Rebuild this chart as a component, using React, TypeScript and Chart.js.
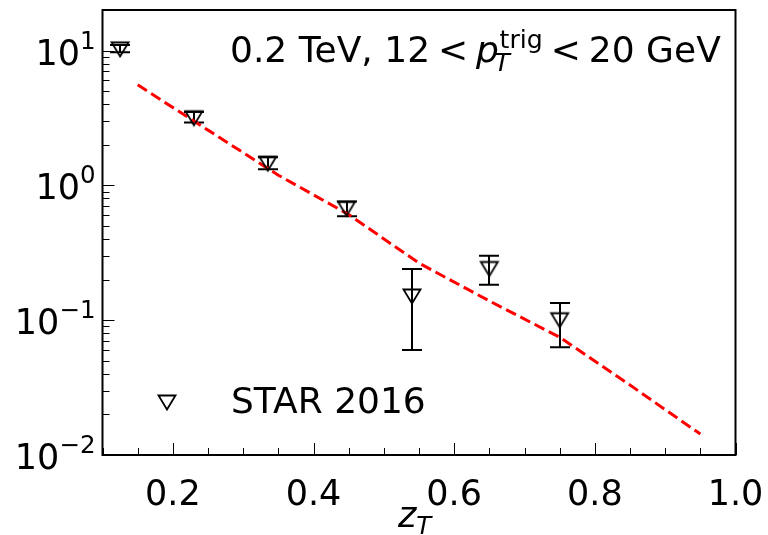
import React, { useEffect, useRef } from "react";
import { Chart, registerables } from "chart.js";
Chart.register(...registerables);

// ---- data ----
const zT = [0.125, 0.23, 0.335, 0.447, 0.54, 0.65, 0.75];
const starYield = [10.2, 3.15, 1.45, 0.67, 0.15, 0.24, 0.1];
const errLow = [9.7, 2.93, 1.32, 0.59, 0.06, 0.183, 0.063];
const errHigh = [11.0, 3.5, 1.62, 0.76, 0.24, 0.3, 0.134];
const curveX = [0.15, 0.25, 0.35, 0.45, 0.55, 0.65, 0.75, 0.85, 0.95];
const curveY = [5.57, 2.57, 1.19, 0.608, 0.265, 0.139, 0.0747, 0.033, 0.0143];
const xTickValues = [0.2, 0.4, 0.6, 0.8, 1.0];
const xTickLabels = ["0.2", "0.4", "0.6", "0.8", "1.0"];
const yTickExps = [1, 0, -1, -2];
const yTickSups = ["1", "0", "\u22121", "\u22122"];
const legendLabel = "STAR 2016";

const FONT = "'DejaVu Sans', sans-serif";
const FS = 35;
const TFS = 36;

function makeMarker(): HTMLCanvasElement {
  const c = document.createElement("canvas");
  c.width = 22;
  c.height = 19;
  const g = c.getContext("2d")!;
  g.strokeStyle = "#000";
  g.lineWidth = 1.8;
  g.lineJoin = "miter";
  g.beginPath();
  g.moveTo(2.5, 2.5);
  g.lineTo(19.5, 2.5);
  g.lineTo(11, 16.5);
  g.closePath();
  g.stroke();
  return c;
}

function drawTitle(ctx: CanvasRenderingContext2D, xStart: number, baseline: number, size: number) {
  const reg = `${size}px ${FONT}`;
  const it = `italic ${size}px ${FONT}`;
  const s = size * 0.7;
  const gap = size * 0.22;
  let x = xStart;
  ctx.textAlign = "left";
  ctx.textBaseline = "alphabetic";
  ctx.font = reg;
  const t1 = "0.2 TeV, 12";
  ctx.fillText(t1, x, baseline);
  x += ctx.measureText(t1).width + gap;
  ctx.fillText("<", x, baseline);
  x += ctx.measureText("<").width + gap;
  ctx.font = it;
  ctx.fillText("p", x, baseline);
  x += ctx.measureText("p").width;
  ctx.font = `italic ${s}px ${FONT}`;
  ctx.fillText("T", x - size * 0.12, baseline + size * 0.24);
  const wT = ctx.measureText("T").width - size * 0.12;
  ctx.font = `${s}px ${FONT}`;
  ctx.fillText("trig", x + size * 0.02, baseline - size * 0.4);
  const wTrig = ctx.measureText("trig").width + size * 0.02;
  x += Math.max(wT, wTrig) + gap;
  ctx.font = reg;
  ctx.fillText("<", x, baseline);
  x += ctx.measureText("<").width + gap;
  ctx.fillText("20 GeV", x, baseline);
}

const overlayPlugin = {
  id: "overlay",
  beforeDatasetsDraw(chart: any) {
    const ctx: CanvasRenderingContext2D = chart.ctx;
    const xs = chart.scales.x;
    const ys = chart.scales.y;
    ctx.save();
    ctx.strokeStyle = "#000";
    ctx.lineWidth = 2;
    for (let i = 0; i < zT.length; i++) {
      const px = Math.round(xs.getPixelForValue(zT[i]));
      const pl = ys.getPixelForValue(errLow[i]);
      const ph = ys.getPixelForValue(errHigh[i]);
      ctx.beginPath();
      ctx.moveTo(px, pl);
      ctx.lineTo(px, ph);
      ctx.moveTo(px - 10, pl);
      ctx.lineTo(px + 10, pl);
      ctx.moveTo(px - 10, ph);
      ctx.lineTo(px + 10, ph);
      ctx.stroke();
    }
    ctx.restore();
  },
  afterDraw(chart: any) {
    const ctx: CanvasRenderingContext2D = chart.ctx;
    const xs = chart.scales.x;
    const ys = chart.scales.y;
    const { left, right, top, bottom } = chart.chartArea;
    ctx.save();
    // ticks
    ctx.strokeStyle = "#000";
    ctx.lineWidth = 1;
    ctx.beginPath();
    for (let i = 2; i <= 20; i++) {
      const v = i * 0.05;
      const px = Math.round(xs.getPixelForValue(v)) + 0.5;
      const len = i % 4 === 0 ? 12 : 7;
      ctx.moveTo(px, bottom);
      ctx.lineTo(px, bottom - len);
    }
    for (let k = -2; k <= 1; k++) {
      for (let m = 1; m <= 9; m++) {
        const v = m * Math.pow(10, k);
        if (v > ys.max) continue;
        const py = Math.round(ys.getPixelForValue(v)) + 0.5;
        const len = m === 1 ? 12 : 7;
        ctx.moveTo(left, py);
        ctx.lineTo(left + len, py);
      }
    }
    ctx.stroke();
    // frame
    ctx.lineWidth = 2;
    ctx.strokeRect(left, top, right - left, bottom - top);

    ctx.fillStyle = "#000";
    // x tick labels
    ctx.font = `${FS}px ${FONT}`;
    ctx.textAlign = "center";
    ctx.textBaseline = "alphabetic";
    xTickValues.forEach((v, i) => {
      ctx.fillText(xTickLabels[i], xs.getPixelForValue(v), bottom + 50);
    });
    // y tick labels: 10^k
    yTickExps.forEach((k, i) => {
      const py = ys.getPixelForValue(Math.pow(10, k));
      const sup = yTickSups[i];
      ctx.textAlign = "left";
      ctx.font = `${FS * 0.7}px ${FONT}`;
      const ws = ctx.measureText(sup).width;
      ctx.font = `${FS}px ${FONT}`;
      const wb = ctx.measureText("10").width;
      const xEnd = left - 7;
      const xb = xEnd - ws - wb;
      ctx.fillText("10", xb, py + 14);
      ctx.font = `${FS * 0.7}px ${FONT}`;
      ctx.fillText(sup, xb + wb, py - 2);
    });
    // x axis title z_T
    ctx.textAlign = "left";
    ctx.font = `italic ${FS}px ${FONT}`;
    const cx = (left + right) / 2;
    const wz = ctx.measureText("z").width;
    ctx.fillText("z", cx - 21, bottom + 72);
    ctx.font = `italic ${FS * 0.7}px ${FONT}`;
    ctx.fillText("T", cx - 21 + wz, bottom + 79);
    // title
    drawTitle(ctx, 230, 62, TFS);
    // legend
    const mk = chart.data.datasets[0].pointStyle as HTMLCanvasElement;
    ctx.drawImage(mk, Math.round(167 - mk.width / 2), Math.round(402 - mk.height / 2));
    ctx.font = `${TFS}px ${FONT}`;
    ctx.fillText(legendLabel, 231, 413);
    ctx.restore();
  },
};

export default function App() {
  const ref = useRef<HTMLCanvasElement | null>(null);
  useEffect(() => {
    if (!ref.current) return;
    const marker = makeMarker();
    const chart = new Chart(ref.current, {
      type: "scatter",
      data: {
        datasets: [
          {
            label: legendLabel,
            data: zT.map((x, i) => ({ x, y: starYield[i] })),
            pointStyle: marker as any,
            pointRadius: 9,
            showLine: false,
            order: 0,
          },
          {
            label: "theory",
            data: curveX.map((x, i) => ({ x, y: curveY[i] })),
            showLine: true,
            borderColor: "#ff0000",
            borderWidth: 3,
            borderDash: [11, 5],
            pointRadius: 0,
            fill: false,
            tension: 0,
            order: 1,
          },
        ],
      },
      options: {
        responsive: false,
        animation: false,
        events: [],
        layout: { padding: { top: 9, right: 32.5, left: 0, bottom: 0 } },
        plugins: { legend: { display: false }, tooltip: { enabled: false }, title: { display: false } },
        scales: {
          x: {
            type: "linear",
            min: 0.1,
            max: 1.0,
            grid: { display: false },
            border: { display: false },
            ticks: { display: false },
            afterFit: (s: any) => {
              s.height = 80;
            },
          },
          y: {
            type: "logarithmic",
            min: 0.01,
            max: 20,
            grid: { display: false },
            border: { display: false },
            ticks: { display: false },
            afterFit: (s: any) => {
              s.width = 102.5;
            },
          },
        },
      },
      plugins: [overlayPlugin],
    });
    return () => chart.destroy();
  }, []);
  return (
    <div style={{ position: "absolute", left: 0, top: 0, width: 768, height: 535, background: "#fff" }}>
      <canvas ref={ref} width={768} height={535} style={{ display: "block" }} />
    </div>
  );
}
